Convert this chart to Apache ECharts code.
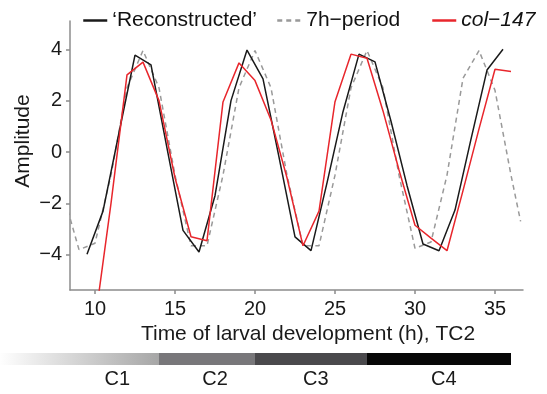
<!DOCTYPE html>
<html>
<head>
<meta charset="utf-8">
<script src="https://cdn.jsdelivr.net/npm/echarts@6/dist/echarts.min.js"></script>
<style>html,body{margin:0;padding:0;background:#fff}#c{width:547px;height:394px}</style>
</head>
<body>
<div id="c"></div>
<script>
// ---- data ----
const reconT = [9.5,10.5,11.5,12.5,13.5,14.5,15.5,16.5,17.5,18.5,19.5,20.5,21.5,22.5,23.5,24.5,25.5,26.5,27.5,28.5,29.5,30.5,31.5,32.5,33.5,34.5,35.5];
const reconV = [-3.98,-2.3,0.75,3.77,3.39,0.15,-3.05,-3.89,-1.7,2.0,3.97,2.85,-0.2,-3.3,-3.84,-1.2,1.57,3.81,3.51,1.2,-1.3,-3.58,-3.84,-2.26,0.5,3.19,4.0];

const periodT = [8,9,10,11,12,13,14,15,16,17,18,19,20,21,22,23,24,25,26,27,28,29,30,31,32,33,34,35,36,36.6];
const periodV = [-1.6,-3.8,-3.55,-0.9,2.5,3.95,2.5,-0.9,-3.65,-3.65,-0.9,2.5,3.95,2.5,-0.9,-3.65,-3.65,-0.9,2.5,3.95,2.5,-0.9,-3.75,-3.5,-0.9,2.87,3.95,2.4,-0.9,-2.7];

const colT = [10,11,12,13,14,15,16,17,18,19,20,21,22,23,24,25,26,27,28,29,30,31,32,33,34,35,36];
const colV = [-6.6,-2.0,3.0,3.5,2.0,-1.0,-3.3,-3.45,1.95,3.47,2.78,1.25,-1.0,-3.65,-2.3,1.96,3.81,3.65,1.6,-0.7,-2.85,-3.35,-3.84,-1.5,0.9,3.22,3.13];

const xTicks = [10,15,20,25,30,35];
const yTicks = [-4,-2,0,2,4];

const stageNames = ['C1','C2','C3','C4'];
const stageStart = [4,14,20,27];
const stageEnd = [14,20,27,36];
const stageLabelT = [11.4,17.5,23.8,31.8];

const seriesNames = ['\u2018Reconstructed\u2019','7h\u2212period','col\u2212147'];
// ---- end data ----

const minus = s => String(s).replace('-', '\u2212');
const pairs = (t, v) => t.map((x, i) => [x, v[i]]);
const FONT = '"Liberation Sans", Arial, sans-serif';
const AX = '#8c8c8c';
const stageFill = [
  {type:'linear', x:0, y:0, x2:1, y2:0, colorStops:[{offset:0,color:'#ffffff'},{offset:1,color:'#a6a6a6'}]},
  '#78777a', '#4a494c', '#070707'
];

const chart = echarts.init(document.getElementById('c'), null, {renderer:'canvas'});
const legendBase = (name, left) => ({
  data:[name], left:left, top:10, itemWidth:24, itemHeight:20, padding:0,
  textStyle:{fontFamily:FONT, fontSize:21, color:'#111',
    rich:{i:{fontFamily:FONT, fontSize:21, fontStyle:'italic', color:'#111'}}},
  formatter: n => n === seriesNames[2] ? '{i|' + n + '}' : n,
  lineStyle:{width:2.5},
  itemStyle:{opacity:0, borderWidth:0}
});

chart.setOption({
  animation:false,
  backgroundColor:'#fff',
  legend:[legendBase(seriesNames[0], 82), legendBase(seriesNames[1], 276), legendBase(seriesNames[2], 431)],
  grid:[
    {left:70, right:24, top:21, bottom:104},
    {left:0, right:24, top:353, height:12}
  ],
  xAxis:[
    {type:'value', gridIndex:0, min:8.4375, max:36.75,
     axisLine:{show:true, onZero:false, lineStyle:{color:AX, width:1.5}},
     axisTick:{show:true, customValues:xTicks, length:4, lineStyle:{color:AX, width:1.5}},
     axisLabel:{customValues:xTicks, margin:9, fontFamily:FONT, fontSize:20, color:'#1a1a1a'},
     splitLine:{show:false}},
    {type:'value', gridIndex:1, min:4.0625, max:36.75, show:false}
  ],
  yAxis:[
    {type:'value', gridIndex:0, min:-5.37, max:5.1,
     axisLine:{show:true, onZero:false, lineStyle:{color:AX, width:1.5}},
     axisTick:{show:true, customValues:yTicks, length:4, lineStyle:{color:AX, width:1.5}},
     axisLabel:{customValues:yTicks, margin:8, fontFamily:FONT, fontSize:20, color:'#1a1a1a', formatter:v => minus(v)},
     splitLine:{show:false}},
    {type:'value', gridIndex:1, min:0, max:1, show:false}
  ],
  graphic:[
    {type:'text', x:308, y:334, style:{text:'Time of larval development (h), TC2', font:'21px ' + FONT, fill:'#1a1a1a', textAlign:'center', textVerticalAlign:'middle'}},
    {type:'text', x:23, y:141, rotation:Math.PI/2, style:{text:'Amplitude', font:'21px ' + FONT, fill:'#1a1a1a', textAlign:'center', textVerticalAlign:'middle'}}
  ],
  series:[
    {name:seriesNames[1], type:'line', xAxisIndex:0, yAxisIndex:0, data:pairs(periodT, periodV), symbol:'none', clip:true,
     lineStyle:{color:'#999999', width:1.5, type:[5,4]}, itemStyle:{color:'#999999'}},
    {name:seriesNames[0], type:'line', xAxisIndex:0, yAxisIndex:0, data:pairs(reconT, reconV), symbol:'none', clip:true,
     lineStyle:{color:'#1a1a1a', width:1.5}, itemStyle:{color:'#1a1a1a'}},
    {name:seriesNames[2], type:'line', xAxisIndex:0, yAxisIndex:0, data:pairs(colT, colV), symbol:'none', clip:true,
     lineStyle:{color:'#e8262c', width:1.5}, itemStyle:{color:'#e8262c'}},
    {type:'custom', xAxisIndex:1, yAxisIndex:1, silent:true,
     data:stageNames.map((n, i) => [stageStart[i], stageEnd[i], stageLabelT[i], i]),
     renderItem:(params, api) => {
       const i = api.value(3);
       const p0 = api.coord([api.value(0), 1]);
       const p1 = api.coord([api.value(1), 0]);
       const pl = api.coord([api.value(2), 0]);
       return {type:'group', children:[
         {type:'rect', shape:{x:p0[0], y:p0[1], width:p1[0]-p0[0], height:p1[1]-p0[1]}, style:{fill:stageFill[i]}},
         {type:'text', x:pl[0], y:p1[1] + 14, style:{text:stageNames[i], font:'20px ' + FONT, fill:'#1a1a1a', textAlign:'center', textVerticalAlign:'middle'}}
       ]};
     }}
  ]
});
</script>
</body>
</html>
